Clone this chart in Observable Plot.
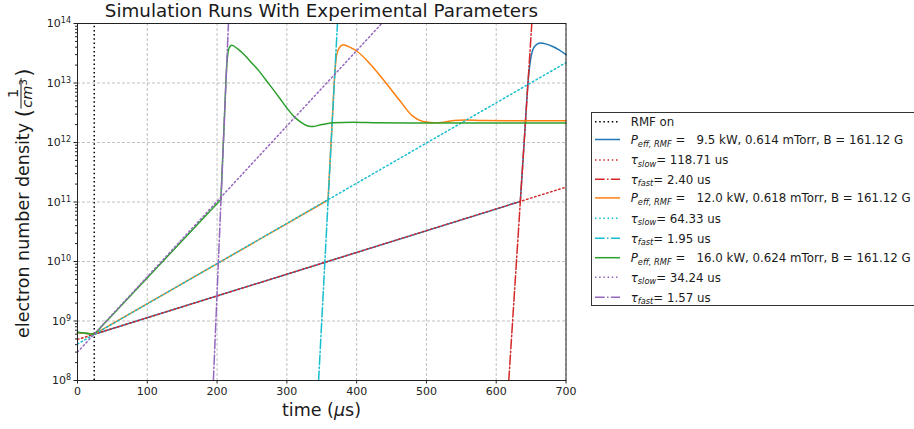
<!DOCTYPE html>
<html><head><meta charset="utf-8">
<script src="https://cdn.jsdelivr.net/npm/d3@7"></script>
<script src="https://cdn.jsdelivr.net/npm/@observablehq/plot@0.6"></script>
<style>
body{margin:0;background:#fff;}
#chart{position:relative;width:914px;height:429px;overflow:hidden;}
svg text{white-space:pre;}
</style>
</head><body><div id="chart"></div>
<script>
// ---- tick labels ----
const xTicks = [0, 100, 200, 300, 400, 500, 600, 700];
const yTicks = [1e8, 1e9, 1e10, 1e11, 1e12, 1e13, 1e14];

// ---- RMF turn-on time (us) ----
const rmfOn = [24];

// ---- run parameters (legend text) ----
const runPower = ["9.5", "12.0", "16.0"];
const runPressure = ["0.614", "0.618", "0.624"];
const runField = ["161.12", "161.12", "161.12"];
const tauSlowLabel = ["118.71", "64.33", "34.24"];
const tauFastLabel = ["2.40", "1.95", "1.57"];

// ---- 9.5 kW run (time us, density 1/cm^3); first 3 points = pre-RMF + slow growth ----
const run1T = [0, 24, 634.5, 637.5, 641, 645.5, 650, 655, 663, 672, 681, 690, 700];
const run1N = [6.4e8, 6.0e8, 1.02e11, 3.5e11, 1.5e12, 1.0e13, 2.8e13, 4.1e13, 4.7e13, 4.5e13, 4.1e13, 3.6e13, 3.0e13];
const slow1T = [0, 700];
const slow1N = [4.9e8, 1.78e11];
const fast1T = [618, 651];
const fast1N = [1e8, 1e14];

// ---- 12.0 kW run ----
const run2T = [0, 24, 359, 362, 365, 368, 371, 375, 381, 390, 400, 420, 440, 460, 480, 495, 510, 525, 540, 555, 580, 620, 700];
const run2N = [6.4e8, 6.0e8, 1.08e11, 5.0e11, 2.3e12, 1.08e13, 2.8e13, 3.9e13, 4.4e13, 4.0e13, 3.45e13, 2.05e13, 1.07e13, 5.4e12, 2.8e12, 2.25e12, 2.15e12, 2.2e12, 2.35e12, 2.4e12, 2.35e12, 2.33e12, 2.33e12];
const slow2T = [0, 700];
const slow2N = [4.1e8, 2.2e13];
const fast2T = [345.5, 372.5];
const fast2N = [1e8, 1e14];

// ---- 16.0 kW run ----
const run3T = [0, 24, 205.5, 208, 211, 213, 215, 217, 221, 230, 240, 250, 260, 270, 280, 290, 300, 310, 320, 330, 338, 350, 366, 395, 430, 500, 700];
const run3N = [6.5e8, 6.0e8, 1.1e11, 5.4e11, 3.6e12, 1.3e13, 2.8e13, 3.8e13, 4.3e13, 3.7e13, 2.9e13, 2.15e13, 1.6e13, 1.12e13, 7.9e12, 5.5e12, 3.8e12, 2.75e12, 2.2e12, 1.9e12, 1.86e12, 2.0e12, 2.15e12, 2.2e12, 2.15e12, 2.12e12, 2.12e12];
const slow3T = [0, 436];
const slow3N = [3.0e8, 1e14];
const fast3T = [194.7, 216.3];
const fast3N = [1e8, 1e14];

// ---- styles ----
const C = {blue:"#1f77b4", orange:"#ff7f0e", green:"#2ca02c", red:"#d62728", purple:"#9467bd", cyan:"#17becf", black:"#000"};
const DOT = "1.5,2.7";
const DASHDOT = "9.6,2.4,1.5,2.4";
const LW = 1.5;

const pts = (T, N) => T.map((t, i) => ({t, n: N[i]}));
// a run = straight (on log axis) pre/slow part + smooth burst part
const run = (T, N, color) => [
  Plot.line(pts(T, N).slice(0, 3), {x: "t", y: "n", stroke: color, strokeWidth: LW}),
  Plot.line(pts(T, N).slice(2), {x: "t", y: "n", stroke: color, strokeWidth: LW, curve: "monotone-x"})
];
const styled = (T, N, color, dash) => Plot.line(pts(T, N), {x: "t", y: "n", stroke: color, strokeWidth: LW, strokeDasharray: dash});

const minorTicks = [];
for (let e = 8; e < 14; e++) for (let m = 2; m <= 9; m++) minorTicks.push(m * Math.pow(10, e));

const gridStyle = {stroke: "#b0b0b0", strokeOpacity: 1, strokeWidth: 0.8, strokeDasharray: "3,2"};

const chart = Plot.plot({
  width: 914, height: 429,
  marginLeft: 77, marginRight: 348.5, marginTop: 23, marginBottom: 49,
  style: {fontFamily: "DejaVu Sans", fontSize: "11px", color: "#222", background: "#fff"},
  x: {domain: [0, 700]},
  y: {type: "log", domain: [1e8, 1e14]},
  marks: [
    Plot.gridX(xTicks, gridStyle),
    Plot.gridY(yTicks, gridStyle),
    Plot.axisX(xTicks, {tickSize: 3.5, tickPadding: 3, label: null, fontSize: 11}),
    Plot.axisY(minorTicks, {tickSize: 2, tickFormat: () => "", label: null}),
    Plot.axisY(yTicks, {tickSize: 3.5, tickPadding: 3, label: null, fontSize: 11, tickFormat: d => "10^" + Math.round(Math.log10(d))}),
    Plot.ruleX(rmfOn, {stroke: C.black, strokeWidth: LW, strokeDasharray: DOT, y1: 1e8, y2: 1e14}),
    ...run(run1T, run1N, C.blue),
    styled(slow1T, slow1N, C.red, DOT),
    styled(fast1T, fast1N, C.red, DASHDOT),
    ...run(run2T, run2N, C.orange),
    styled(slow2T, slow2N, C.cyan, DOT),
    styled(fast2T, fast2N, C.cyan, DASHDOT),
    ...run(run3T, run3N, C.green),
    styled(slow3T, slow3N, C.purple, DOT),
    styled(fast3T, fast3N, C.purple, DASHDOT),
    Plot.frame({stroke: "#222", strokeWidth: 1})
  ]
});
document.getElementById("chart").appendChild(chart);
const svg = d3.select(chart);

// superscript y tick labels
svg.selectAll('g[aria-label="y-axis tick label"] text').each(function () {
  const s = this.textContent;
  if (!s || s.indexOf("^") < 0) return;
  const [b, e] = s.split("^");
  const el = d3.select(this);
  el.text("");
  el.append("tspan").text(b);
  el.append("tspan").attr("dy", "-0.5em").attr("font-size", "8px").text(e);
});

const FONT = "DejaVu Sans";
const ink = "#1a1a1a";

// title
svg.append("text").attr("x", 321.5).attr("y", 17).attr("text-anchor", "middle")
  .attr("font-family", FONT).attr("font-size", 18.3).attr("fill", ink)
  .text("Simulation Runs With Experimental Parameters");

// x label
const xl = svg.append("text").attr("x", 321.5).attr("y", 416).attr("text-anchor", "middle")
  .attr("font-family", FONT).attr("font-size", 17.5).attr("fill", ink);
xl.append("tspan").text("time (");
xl.append("tspan").attr("font-style", "italic").text("\u03bc");
xl.append("tspan").text("s)");

// y label with fraction
const yl = svg.append("g").attr("transform", "translate(28.5,338) rotate(-90)")
  .attr("font-family", FONT).attr("fill", ink).attr("text-anchor", "start");
const t1 = yl.append("text").attr("x", 0).attr("y", 0).attr("font-size", 17.5).text("electron number density ");
const w1 = t1.node().getComputedTextLength();
const op = yl.append("text").attr("x", w1).attr("y", 2).attr("font-size", 21).text("(");
const w = w1 + op.node().getComputedTextLength();
const den = yl.append("text").attr("y", 3).attr("font-size", 14.5).attr("font-style", "italic");
den.append("tspan").text("cm");
den.append("tspan").attr("dy", -5).attr("font-size", 10).attr("font-style", "normal").text("3");
const dw = den.node().getComputedTextLength();
const fw = dw + 3;
den.attr("x", w + 1.5);
yl.append("line").attr("x1", w + 0.5).attr("x2", w + fw - 0.5).attr("y1", -7.5).attr("y2", -7.5)
  .attr("stroke", ink).attr("stroke-width", 1);
yl.append("text").attr("x", w + fw / 2).attr("y", -10.5).attr("font-size", 14.5).attr("text-anchor", "middle").text("1");
yl.append("text").attr("x", w + fw + 1).attr("y", 2).attr("font-size", 21).text(")");

// legend
const LFS = 11.8;
const lg = svg.append("g").attr("font-family", FONT).attr("font-size", LFS).attr("fill", ink).attr("text-anchor", "start");
lg.append("rect").attr("x", 591.5).attr("y", 112.5).attr("width", 340).attr("height", 193)
  .attr("fill", "#fff").attr("stroke", "#333").attr("stroke-width", 1);
const rowY = [121.7, 139.5, 160, 179.3, 197.9, 218.3, 238.3, 257.7, 277.3, 297.3];
const rows = [{kind: "rmf", color: C.black, dash: DOT}];
const runColors = [[C.blue, C.red], [C.orange, C.cyan], [C.green, C.purple]];
for (let i = 0; i < 3; i++) {
  rows.push({kind: "P", i, color: runColors[i][0], dash: null});
  rows.push({kind: "slow", i, color: runColors[i][1], dash: DOT});
  rows.push({kind: "fast", i, color: runColors[i][1], dash: DASHDOT});
}
rows.forEach((r, k) => {
  const y = rowY[k];
  const ln = lg.append("line").attr("x1", 595).attr("x2", 620).attr("y1", y).attr("y2", y)
    .attr("stroke", r.color).attr("stroke-width", LW);
  if (r.dash) ln.attr("stroke-dasharray", r.dash);
  const tx = lg.append("text").attr("x", 630.7).attr("y", y + 4.3);
  if (r.kind === "rmf") { tx.text("RMF on"); return; }
  const sub = LFS * 0.7;
  if (r.kind === "P") {
    tx.append("tspan").attr("font-style", "italic").text("P");
    tx.append("tspan").attr("font-style", "italic").attr("font-size", sub).attr("dy", 2.8).text("eff, RMF");
    tx.append("tspan").attr("dy", -2.8).text(" =   " + runPower[r.i] + " kW, " + runPressure[r.i] + " mTorr, B = " + runField[r.i] + " G");
  } else {
    tx.append("tspan").attr("font-style", "italic").text("\u03c4");
    tx.append("tspan").attr("font-style", "italic").attr("font-size", sub).attr("dy", 2.8).text(r.kind === "slow" ? "slow" : "fast");
    tx.append("tspan").attr("dy", -2.8).text("= " + (r.kind === "slow" ? tauSlowLabel[r.i] : tauFastLabel[r.i]) + " us");
  }
});
</script>
</body></html>
